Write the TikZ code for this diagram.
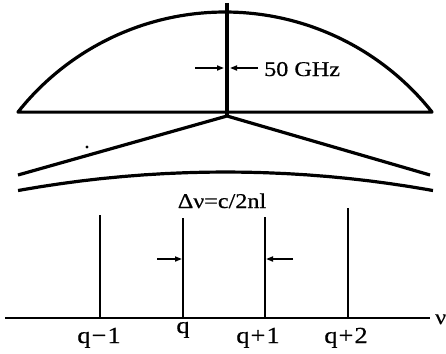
\documentclass[tikz,border=0pt]{standalone}
\usepackage{fontspec}
\setmainfont{Liberation Serif}[FakeStretch=1.15,FakeBold=0.6]
\usetikzlibrary{arrows.meta}
\begin{document}
\begin{tikzpicture}[x=1pt,y=-1pt,line join=round,
  curve/.style={line width=3.2pt},
  mode/.style={line width=2.2pt},
  axisline/.style={line width=2.6pt},
  marker/.style={line width=1.6pt,-{Triangle[length=7pt,width=5pt]}},
  lbl/.style={inner sep=0pt,font=\fontsize{21}{25}\selectfont},
  qlbl/.style={inner sep=0pt,anchor=base,font=\fontsize{23}{27}\selectfont}]
\useasboundingbox (0,0) rectangle (446,353);
% gain curve
\draw[curve] plot[domain=-141.6:-38.4,samples=90] ({225+264.2*cos(\x)},{276.2+264.2*sin(\x)}) -- cycle;
\coordinate (top) at (227,3);
\coordinate (apex) at (227,116);
\draw[line width=4.5pt] (top) -- (apex);
\coordinate (vl) at (18,175);
\coordinate (vr) at (430,175);
\draw[curve] (vl) -- (apex) -- (vr);
\draw[curve] plot[domain=-100.19:-79.81,samples=60] ({225.5+1172.9*cos(\x)},{1344.9+1172.9*sin(\x)});
\fill (87,147) circle[radius=1.7pt];
% 50 GHz markers
\coordinate (a1) at (195,68); \coordinate (a1e) at (224,68);
\coordinate (a2) at (258,68); \coordinate (a2e) at (230,68);
\draw[marker] (a1) -- (a1e);
\draw[marker] (a2) -- (a2e);
\node[lbl,anchor=base west] (ghz) at (264,76) {50 GHz};
% axis and modes
\coordinate (ax0) at (5,318);
\coordinate (ax1) at (430,318);
\draw[axisline] (ax0) -- (ax1);
\node[lbl,anchor=base west] (nu) at (435,324) {ν};
\coordinate (m1b) at (100,318); \coordinate (m1t) at (100,215);
\coordinate (m2b) at (183,318); \coordinate (m2t) at (183,218);
\coordinate (m3b) at (265,318); \coordinate (m3t) at (265,217);
\coordinate (m4b) at (348,318); \coordinate (m4t) at (348,208);
\draw[mode] (m1b) -- (m1t);
\draw[mode] (m2b) -- (m2t);
\draw[mode] (m3b) -- (m3t);
\draw[mode] (m4b) -- (m4t);
\coordinate (b1) at (157,259); \coordinate (b1e) at (182,259);
\coordinate (b2) at (293,259); \coordinate (b2e) at (266,259);
\draw[marker] (b1) -- (b1e);
\draw[marker] (b2) -- (b2e);
\node[lbl,anchor=base] (dnu) at (222,208) {Δν=c/2nl};
\node[qlbl] (q1) at (99,343) {q\kern1pt−\kern1pt1};
\node[qlbl] (q2) at (183,333) {q};
\node[qlbl] (q3) at (258,343) {q\kern1pt+\kern1pt1};
\node[qlbl] (q4) at (346,343) {q\kern1pt+\kern1pt2};
\end{tikzpicture}
\end{document}
